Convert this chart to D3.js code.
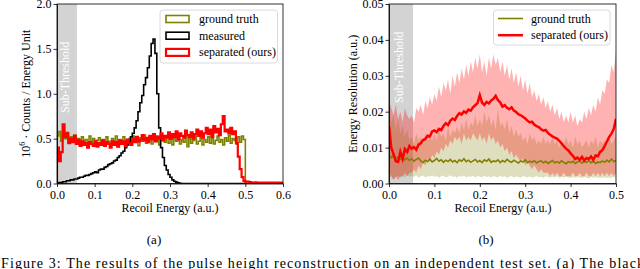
<!DOCTYPE html>
<html>
<head>
<meta charset="utf-8">
<script src="https://cdn.jsdelivr.net/npm/d3@7"></script>
<style>
body { margin: 0; background: #fff; }
svg, svg text { font-family: "Liberation Serif", "Times New Roman", Times, serif; }
.axis path, .axis line { stroke: #000; stroke-width: 0.8; }
.axis text { font-size: 12px; fill: #000; }
</style>
</head>
<body>
<svg id="viz" width="640" height="269"></svg>
<script>
// ---- (a) histogram, bins of 0.005 from 0 to 0.6 (units: 10^6 counts) ----
var binWidth = 0.005;
var histTicks = [0.0, 0.1, 0.2, 0.3, 0.4, 0.5, 0.6];
var histYTicks = [0.0, 0.5, 1.0, 1.5, 2.0];

var groundTruth = [
  0.53,0.58,0.47,0.55,0.50,0.57,0.46,0.52,0.49,0.54,
  0.45,0.50,0.43,0.52,0.47,0.49,0.44,0.53,0.46,0.50,
  0.42,0.48,0.51,0.45,0.49,0.43,0.52,0.47,0.44,0.50,
  0.46,0.53,0.41,0.49,0.47,0.52,0.44,0.48,0.50,0.45,
  0.53,0.46,0.49,0.42,0.51,0.47,0.54,0.45,0.49,0.52,
  0.44,0.50,0.47,0.53,0.43,0.48,0.51,0.46,0.52,0.45,
  0.49,0.43,0.50,0.47,0.54,0.44,0.49,0.46,0.52,0.41,
  0.50,0.45,0.48,0.53,0.44,0.47,0.51,0.43,0.49,0.46,
  0.52,0.45,0.50,0.44,0.48,0.53,0.46,0.49,0.43,0.51,
  0.47,0.54,0.45,0.50,0.48,0.44,0.52,0.46,0.53,0.49,
  0,0,0,0,0,0,0,0,0,0,
  0,0,0,0,0,0,0,0,0,0
];
var measured = [
  0.00,0.01,0.01,0.02,0.02,0.03,0.03,0.04,0.04,0.05,
  0.05,0.06,0.07,0.07,0.08,0.09,0.09,0.10,0.11,0.12,
  0.13,0.12,0.15,0.16,0.16,0.18,0.19,0.21,0.22,0.23,
  0.25,0.26,0.29,0.31,0.34,0.36,0.40,0.43,0.47,0.52,
  0.56,0.62,0.70,0.80,0.90,0.98,1.10,1.18,1.29,1.42,
  1.56,1.61,1.45,1.00,0.62,0.40,0.29,0.20,0.15,0.10,
  0.07,0.04,0.025,0.015,0.008,0.003,0,0,0,0,
  0,0,0,0,0,0,0,0,0,0,
  0,0,0,0,0,0,0,0,0,0,
  0,0,0,0,0,0,0,0,0,0,
  0,0,0,0,0,0,0,0,0,0,
  0,0,0,0,0,0,0,0,0,0
];
var separated = [
  0.40,0.25,0.35,0.66,0.52,0.56,0.45,0.50,0.46,0.53,
  0.44,0.48,0.42,0.47,0.43,0.45,0.40,0.46,0.44,0.42,
  0.47,0.41,0.45,0.43,0.48,0.42,0.46,0.44,0.40,0.47,
  0.43,0.46,0.41,0.48,0.44,0.47,0.42,0.49,0.45,0.43,
  0.50,0.46,0.52,0.47,0.49,0.54,0.48,0.51,0.46,0.53,
  0.49,0.55,0.47,0.52,0.50,0.56,0.48,0.53,0.51,0.57,
  0.50,0.55,0.52,0.58,0.49,0.56,0.53,0.51,0.59,0.54,
  0.52,0.57,0.50,0.55,0.60,0.53,0.58,0.51,0.56,0.62,
  0.55,0.60,0.52,0.64,0.57,0.61,0.54,0.66,0.75,0.58,
  0.60,0.56,0.62,0.55,0.58,0.45,0.30,0.16,0.07,0.03,
  0.02,0.02,0.015,0.01,0.01,0.012,0.01,0.01,0.008,0.01,
  0.01,0.008,0.01,0.01,0.008,0.01,0.01,0.008,0.01,0.01
];

// ---- (b) energy resolution, sampled every 0.005 from 0 to 0.5 ----
var resStep = 0.005;
var resTicks = [0.0, 0.1, 0.2, 0.3, 0.4, 0.5];
var resYTicks = [0.00, 0.01, 0.02, 0.03, 0.04, 0.05];

var sepMean = [
  0.0160,0.0100,0.0082,0.0062,0.0060,0.0088,0.0068,0.0096,0.0088,0.0104,
  0.0097,0.0101,0.0094,0.0108,0.0112,0.0121,0.0124,0.0133,0.0131,0.0145,
  0.0148,0.0143,0.0152,0.0149,0.0160,0.0168,0.0163,0.0175,0.0181,0.0177,
  0.0188,0.0196,0.0192,0.0201,0.0197,0.0206,0.0203,0.0212,0.0218,0.0224,
  0.0246,0.0225,0.0219,0.0227,0.0223,0.0231,0.0236,0.0244,0.0232,0.0226,
  0.0214,0.0218,0.0211,0.0207,0.0212,0.0203,0.0199,0.0193,0.0190,0.0186,
  0.0181,0.0175,0.0170,0.0172,0.0164,0.0160,0.0157,0.0151,0.0147,0.0149,
  0.0141,0.0136,0.0131,0.0128,0.0125,0.0119,0.0112,0.0104,0.0097,0.0092,
  0.0084,0.0077,0.0068,0.0072,0.0066,0.0074,0.0064,0.0071,0.0068,0.0075,
  0.0066,0.0078,0.0076,0.0088,0.0093,0.0104,0.0117,0.0130,0.0139,0.0152,
  0.0180
];
var sepHi = [
  0.023,0.021,0.019,0.022,0.018,0.020,0.017,0.021,0.019,0.018,
  0.019,0.017,0.021,0.020,0.022,0.019,0.023,0.021,0.024,0.022,
  0.025,0.023,0.027,0.024,0.028,0.026,0.029,0.025,0.030,0.027,
  0.031,0.028,0.032,0.029,0.033,0.030,0.034,0.031,0.035,0.032,
  0.036,0.031,0.034,0.030,0.035,0.032,0.036,0.033,0.035,0.031,
  0.034,0.030,0.033,0.029,0.032,0.028,0.031,0.027,0.030,0.026,
  0.029,0.025,0.028,0.024,0.026,0.023,0.025,0.022,0.024,0.021,
  0.023,0.020,0.022,0.019,0.021,0.018,0.020,0.017,0.019,0.017,
  0.020,0.017,0.019,0.016,0.018,0.017,0.020,0.018,0.021,0.019,
  0.022,0.020,0.024,0.022,0.026,0.025,0.029,0.028,0.033,0.031,
  0.037
];
var sepLo = [
  0.003,0.002,0.001,0.002,0.001,0.002,0.002,0.003,0.002,0.003,
  0.003,0.004,0.003,0.005,0.004,0.006,0.005,0.007,0.006,0.008,
  0.007,0.009,0.008,0.010,0.009,0.011,0.010,0.012,0.011,0.013,
  0.012,0.013,0.011,0.014,0.012,0.013,0.012,0.014,0.013,0.012,
  0.014,0.012,0.013,0.011,0.014,0.012,0.013,0.011,0.012,0.010,
  0.011,0.009,0.010,0.008,0.009,0.007,0.008,0.007,0.006,0.007,
  0.005,0.006,0.005,0.004,0.005,0.004,0.003,0.004,0.003,0.003,
  0.003,0.002,0.003,0.002,0.003,0.002,0.002,0.003,0.002,0.002,
  0.002,0.003,0.002,0.002,0.003,0.002,0.002,0.003,0.002,0.002,
  0.003,0.002,0.003,0.002,0.003,0.002,0.003,0.002,0.003,0.002,
  0.003
];
var gtMean = [
  0.0076,0.0072,0.0079,0.0070,0.0074,0.0068,0.0073,0.0066,0.0071,0.0064,
  0.0069,0.0062,0.0067,0.0071,0.0063,0.0058,0.0065,0.0061,0.0068,0.0060,
  0.0064,0.0070,0.0062,0.0066,0.0059,0.0065,0.0061,0.0067,0.0060,0.0064,
  0.0058,0.0066,0.0062,0.0069,0.0061,0.0065,0.0059,0.0063,0.0067,0.0060,
  0.0064,0.0058,0.0066,0.0062,0.0068,0.0059,0.0063,0.0061,0.0066,0.0058,
  0.0064,0.0060,0.0067,0.0062,0.0059,0.0065,0.0061,0.0057,0.0063,0.0060,
  0.0066,0.0058,0.0062,0.0059,0.0064,0.0057,0.0061,0.0063,0.0058,0.0062,
  0.0056,0.0060,0.0064,0.0058,0.0061,0.0057,0.0063,0.0059,0.0055,0.0061,
  0.0058,0.0062,0.0056,0.0060,0.0063,0.0057,0.0061,0.0059,0.0064,0.0058,
  0.0062,0.0056,0.0060,0.0058,0.0063,0.0059,0.0065,0.0060,0.0068,0.0061,
  0.0064
];
var gtHi = [
  0.020,0.017,0.019,0.015,0.018,0.014,0.016,0.013,0.015,0.012,
  0.013,0.011,0.014,0.012,0.013,0.011,0.014,0.012,0.013,0.012,
  0.014,0.012,0.015,0.013,0.014,0.012,0.016,0.013,0.015,0.014,
  0.016,0.014,0.017,0.015,0.018,0.015,0.017,0.016,0.019,0.016,
  0.018,0.016,0.020,0.017,0.019,0.016,0.018,0.015,0.021,0.016,
  0.017,0.015,0.018,0.014,0.016,0.013,0.015,0.013,0.014,0.012,
  0.013,0.011,0.014,0.012,0.013,0.011,0.012,0.011,0.013,0.011,
  0.012,0.011,0.013,0.011,0.012,0.010,0.012,0.011,0.013,0.011,
  0.012,0.010,0.013,0.011,0.012,0.010,0.011,0.012,0.010,0.012,
  0.011,0.013,0.010,0.012,0.011,0.012,0.010,0.013,0.011,0.012,
  0.013
];
var gtLo = [
  0.0010,0.0020,0.0012,0.0018,0.0022,0.0015,0.0020,0.0017,0.0024,0.0019,
  0.0021,0.0018,0.0023,0.0016,0.0020,0.0022,0.0017,0.0021,0.0019,0.0023,
  0.0018,0.0021,0.0016,0.0020,0.0022,0.0017,0.0019,0.0023,0.0018,0.0020,
  0.0016,0.0021,0.0019,0.0023,0.0017,0.0020,0.0018,0.0022,0.0016,0.0021,
  0.0019,0.0017,0.0022,0.0018,0.0020,0.0016,0.0021,0.0019,0.0017,0.0022,
  0.0018,0.0020,0.0016,0.0019,0.0021,0.0017,0.0020,0.0018,0.0016,0.0021,
  0.0019,0.0017,0.0020,0.0016,0.0018,0.0021,0.0017,0.0019,0.0015,0.0020,
  0.0018,0.0016,0.0019,0.0017,0.0020,0.0015,0.0018,0.0016,0.0019,0.0017,
  0.0015,0.0018,0.0016,0.0019,0.0017,0.0015,0.0018,0.0016,0.0014,0.0018,
  0.0016,0.0019,0.0015,0.0017,0.0016,0.0018,0.0015,0.0017,0.0016,0.0018,
  0.0017
];
var threshold = 0.053;

(function () {
    'use strict';
    var FONT = '"Liberation Serif", "Times New Roman", Times, serif';
    var svg = d3.select("#viz").attr("font-family", FONT);
    var OLIVE = "#808000", RED = "#ff0000";
    var top = 4, bottom = 183.5;

    function drawAxes(g, x, y, xt, yt, xfmt, yfmt) {
        var ax = g.append("g").attr("class", "axis")
            .attr("transform", "translate(0," + bottom + ")")
            .call(d3.axisBottom(x).tickValues(xt).tickFormat(xfmt).tickSize(3.5).tickPadding(3.5).tickSizeOuter(0));
        var ay = g.append("g").attr("class", "axis")
            .attr("transform", "translate(" + x.range()[0] + ",0)")
            .call(d3.axisLeft(y).tickValues(yt).tickFormat(yfmt).tickSize(3.5).tickPadding(2).tickSizeOuter(0));
        ax.attr("font-family", FONT).attr("font-size", 12);
        ay.attr("font-family", FONT).attr("font-size", 12);
        g.append("rect") // frame
            .attr("x", x.range()[0]).attr("y", top)
            .attr("width", x.range()[1] - x.range()[0]).attr("height", bottom - top)
            .attr("fill", "none").attr("stroke", "#000").attr("stroke-width", 0.8);
    }

    function subThreshold(g, x, textBottom) {
        var w = x(threshold) - x(0);
        g.append("rect").attr("x", x(0)).attr("y", top)
            .attr("width", w).attr("height", bottom - top)
            .attr("fill", "#d3d3d3");
        g.append("text")
            .attr("transform", "translate(" + (x(0) + w / 2 + 2) + "," + textBottom + ") rotate(-90)")
            .attr("font-size", 12).attr("fill", "#fff")
            .text("Sub-Threshold");
    }

    //================ (a) ================
    var xA = d3.scaleLinear().domain([0, 0.6]).range([57, 283]);
    var yA = d3.scaleLinear().domain([0, 2]).range([bottom, top]);
    var gA = svg.append("g");
    gA.append("clipPath").attr("id", "clipA").append("rect")
        .attr("x", 57).attr("y", top).attr("width", 226).attr("height", bottom - top);

    subThreshold(gA, xA, 113);

    function stepPoints(values) {
        var pts = [[0, 0]];
        values.forEach(function (v, i) {
            pts.push([i * binWidth, v]);
            pts.push([(i + 1) * binWidth, v]);
        });
        pts.push([values.length * binWidth, 0]);
        return pts;
    }
    var lineA = d3.line().x(function (d) { return xA(d[0]); }).y(function (d) { return yA(d[1]); });
    var histSeries = [
        { data: groundTruth, color: OLIVE, w: 1.6 },
        { data: measured, color: "#000", w: 1.6 },
        { data: separated, color: RED, w: 2.2 }
    ];
    gA.selectAll(".hist").data(histSeries).enter()
        .append("path").attr("class", "hist")
        .attr("clip-path", "url(#clipA)")
        .attr("d", function (s) { return lineA(stepPoints(s.data)); })
        .attr("fill", "none")
        .attr("stroke", function (s) { return s.color; })
        .attr("stroke-width", function (s) { return s.w; });

    drawAxes(gA, xA, yA, histTicks, histYTicks, d3.format(".1f"), d3.format(".1f"));

    var yLabA = gA.append("text")
        .attr("transform", "translate(30," + ((top + bottom) / 2) + ") rotate(-90)")
        .attr("text-anchor", "middle").attr("font-size", 12);
    yLabA.append("tspan").text("10");
    yLabA.append("tspan").attr("font-size", 8).attr("dy", -5).text("6");
    yLabA.append("tspan").attr("dy", 5).text(" \u00b7 Counts / Energy Unit");
    gA.append("text").attr("x", 170).attr("y", 212)
        .attr("text-anchor", "middle").attr("font-size", 12)
        .text("Recoil Energy (a.u.)");

    // legend (a)
    var legA = gA.append("g");
    legA.append("rect").attr("x", 160).attr("y", 10).attr("width", 117.5).attr("height", 53)
        .attr("rx", 3).attr("fill", "#fff").attr("fill-opacity", 0.8)
        .attr("stroke", "#d0d0d0").attr("stroke-width", 0.8);
    var legItemsA = [
        { label: "ground truth", color: OLIVE, w: 1.6 },
        { label: "measured", color: "#000", w: 1.6 },
        { label: "separated (ours)", color: RED, w: 2.2 }
    ];
    legItemsA.forEach(function (d, i) {
        var cy = 19 + i * 16.7;
        legA.append("rect").attr("x", 166).attr("y", cy - 3.5).attr("width", 23).attr("height", 7)
            .attr("fill", "none").attr("stroke", d.color).attr("stroke-width", d.w);
        legA.append("text").attr("x", 199).attr("y", cy + 4).attr("font-size", 12).text(d.label);
    });

    //================ (b) ================
    var xB = d3.scaleLinear().domain([0, 0.5]).range([389, 616]);
    var yB = d3.scaleLinear().domain([0, 0.05]).range([bottom, top]);
    var gB = svg.append("g");
    gB.append("clipPath").attr("id", "clipB").append("rect")
        .attr("x", 389).attr("y", top).attr("width", 227).attr("height", bottom - top);

    subThreshold(gB, xB, 103);

    var idx = d3.range(sepMean.length);
    function band(lo, hi) {
        return d3.area()
            .x(function (i) { return xB(i * resStep); })
            .y0(function (i) { return yB(lo[i]); })
            .y1(function (i) { return yB(hi[i]); })(idx);
    }
    function curve(vals) {
        return d3.line()
            .x(function (i) { return xB(i * resStep); })
            .y(function (i) { return yB(vals[i]); })(idx);
    }
    gB.append("path").attr("clip-path", "url(#clipB)")
        .attr("d", band(gtLo, gtHi)).attr("fill", OLIVE).attr("fill-opacity", 0.25);
    gB.append("path").attr("clip-path", "url(#clipB)")
        .attr("d", band(sepLo, sepHi)).attr("fill", RED).attr("fill-opacity", 0.3);
    gB.append("path").attr("clip-path", "url(#clipB)")
        .attr("d", curve(gtMean)).attr("fill", "none").attr("stroke", OLIVE).attr("stroke-width", 1.6);
    gB.append("path").attr("clip-path", "url(#clipB)")
        .attr("d", curve(sepMean)).attr("fill", "none").attr("stroke", RED).attr("stroke-width", 2.5);

    drawAxes(gB, xB, yB, resTicks, resYTicks, d3.format(".1f"), d3.format(".2f"));

    gB.append("text")
        .attr("transform", "translate(357," + ((top + bottom) / 2) + ") rotate(-90)")
        .attr("text-anchor", "middle").attr("font-size", 12)
        .text("Energy Resolution (a.u.)");
    gB.append("text").attr("x", 503).attr("y", 212)
        .attr("text-anchor", "middle").attr("font-size", 12)
        .text("Recoil Energy (a.u.)");

    // legend (b)
    var legB = gB.append("g");
    legB.append("rect").attr("x", 493.5).attr("y", 10).attr("width", 116.5).attr("height", 35)
        .attr("rx", 3).attr("fill", "#fff").attr("fill-opacity", 0.8)
        .attr("stroke", "#d0d0d0").attr("stroke-width", 0.8);
    [{ label: "ground truth", color: OLIVE, w: 1.6 },
     { label: "separated (ours)", color: RED, w: 2.5 }].forEach(function (d, i) {
        var cy = 18.5 + i * 16.7;
        legB.append("line").attr("x1", 498).attr("x2", 523).attr("y1", cy).attr("y2", cy)
            .attr("stroke", d.color).attr("stroke-width", d.w);
        legB.append("text").attr("x", 531).attr("y", cy + 4).attr("font-size", 12).text(d.label);
    });

    //================ captions ================
    svg.append("text").attr("x", 154).attr("y", 244).attr("text-anchor", "middle")
        .attr("font-size", 13).text("(a)");
    svg.append("text").attr("x", 486).attr("y", 244).attr("text-anchor", "middle")
        .attr("font-size", 13).text("(b)");
    svg.append("text").attr("x", 1).attr("y", 268)
        .attr("font-size", 14)
        .attr("textLength", 643).attr("lengthAdjust", "spacing")
        .text("Figure 3: The results of the pulse height reconstruction on an independent test set. (a) The black");
}());
</script>
</body>
</html>
